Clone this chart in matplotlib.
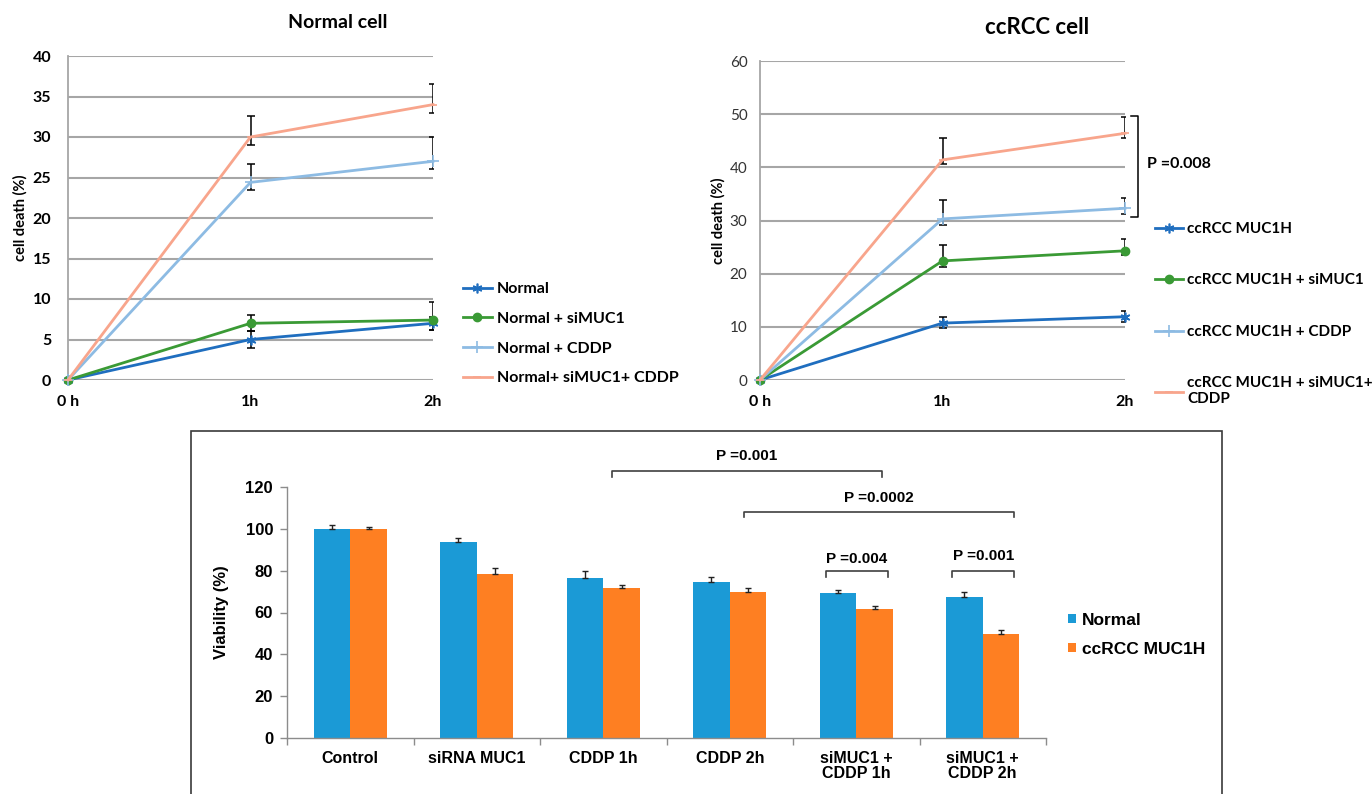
import matplotlib
matplotlib.use('Agg')
import matplotlib.pyplot as plt
from matplotlib.patches import Rectangle

# ---- data -------------------------------------------------------------
times = ['0 h', '1h', '2h']

# Normal cell: cell death (%), with lower / upper error
normal_labels = ['Normal', 'Normal + siMUC1', 'Normal + CDDP', 'Normal+ siMUC1+ CDDP']
normal_vals = [[0, 5.0, 7.0], [0, 7.0, 7.4], [0, 24.4, 27.0], [0, 30.0, 34.0]]
normal_lo = [[0, 1.0, 0.8], [0, 1.0, 1.2], [0, 0.9, 1.0], [0, 1.0, 1.0]]
normal_hi = [[0, 1.0, 0.8], [0, 1.0, 2.2], [0, 2.3, 3.0], [0, 2.6, 2.6]]

# ccRCC cell
rcc_labels = ['ccRCC MUC1H', 'ccRCC MUC1H + siMUC1', 'ccRCC MUC1H + CDDP',
              'ccRCC MUC1H + siMUC1+\nCDDP']
rcc_vals = [[0, 10.7, 11.9], [0, 22.4, 24.3], [0, 30.3, 32.3], [0, 41.4, 46.4]]
rcc_lo = [[0, 1.0, 0.9], [0, 1.1, 0.8], [0, 1.2, 1.0], [0, 0.8, 0.8]]
rcc_hi = [[0, 1.1, 1.1], [0, 3.0, 2.2], [0, 3.6, 2.0], [0, 4.1, 3.0]]

# viability bar chart
groups = ['Control', 'siRNA MUC1', 'CDDP 1h', 'CDDP 2h', 'siMUC1 +\nCDDP 1h', 'siMUC1 +\nCDDP 2h']
via_normal = [99.6, 93.7, 76.5, 74.7, 69.5, 67.6]
via_normal_err = [1.9, 2.0, 3.5, 2.1, 1.4, 2.4]
via_rcc = [99.6, 78.5, 71.7, 69.6, 61.7, 49.8]
via_rcc_err = [1.3, 2.6, 1.4, 2.0, 1.6, 1.9]

# significance brackets: (x0, x1, y, label, label y)
brackets = [(2.07, 4.20, 127.5, 'P =0.001', 134.6),
            (3.11, 5.25, 108.1, 'P =0.0002', 114.7),
            (3.76, 4.25, 79.8, 'P =0.004', 85.5),
            (4.76, 5.25, 79.8, 'P =0.001', 87.0)]

# ---- styles -----------------------------------------------------------
line_colors = ['#1F6EBF', '#3A9A35', '#8DBBE3', '#F8A58C']
line_markers = [(6, 2, 0), 'o', '+', '_']
line_msize = [7, 6, 8, 6]
CAL = ['Lato', 'DejaVu Sans']
ARI = ['Liberation Sans', 'DejaVu Sans']
GRID = '#A6A6A6'

W, H = 1372, 794
fig = plt.figure(figsize=(W / 100, H / 100), dpi=100)


def fx(px):
    return px / W


def fy(py):
    return 1 - py / H


def line_panel(ax, vals, lo, hi, labels, ymax, ystep, bold_ticks):
    x = range(len(times))
    for i in range(len(vals)):
        ax.errorbar(list(x)[1:], vals[i][1:], yerr=[lo[i][1:], hi[i][1:]], fmt='none',
                    ecolor='black', elinewidth=1.1, capsize=2.6, capthick=1.1, zorder=2)
    for i in range(len(vals)):
        ax.plot(x, vals[i], color=line_colors[i], lw=2, marker=line_markers[i],
                ms=line_msize[i], mew=1.2 if i != 1 else 1, label=labels[i],
                clip_on=False, zorder=3)
    ax.set_xlim(0, 2)
    ax.set_ylim(0, ymax)
    ax.set_yticks(range(0, ymax + 1, ystep))
    ax.yaxis.grid(True, color=GRID, lw=1.5)
    ax.set_axisbelow(True)
    for s in ['top', 'right', 'bottom']:
        ax.spines[s].set_visible(False)
    ax.spines['left'].set_color(GRID)
    ax.spines['left'].set_linewidth(1.3)
    ax.set_xticks(list(x))
    ax.set_xticklabels(times, fontfamily=CAL, fontweight='bold', fontsize=11.5)
    ax.tick_params(axis='both', length=0)
    ax.tick_params(axis='x', pad=11)
    for t in ax.get_yticklabels():
        t.set_fontfamily(CAL)
        t.set_fontsize(11.5 if bold_ticks else 11)
        t.set_fontweight('bold' if bold_ticks else 'normal')
        t.set_color('black' if bold_ticks else '#333333')
    ax.set_ylabel('cell death (%)', fontfamily=CAL, fontweight='bold', fontsize=10.5)


# ---- Normal cell -------------------------------------------------------
ax1 = fig.add_axes([fx(68), fy(380), fx(365), 324 / H])
line_panel(ax1, normal_vals, normal_lo, normal_hi, normal_labels, 40, 5, True)
ax1.tick_params(axis='y', pad=12)
ax1.yaxis.set_label_coords(-0.11, 0.5)
fig.text(fx(338), fy(23), 'Normal cell', ha='center', va='center',
         fontfamily=CAL, fontweight='bold', fontsize=14)
ax1.legend(loc='upper left', bbox_to_anchor=(fx(463), fy(282)), bbox_transform=fig.transFigure,
           frameon=False, prop={'family': CAL, 'weight': 'bold', 'size': 11.5},
           handlelength=1.8, handletextpad=0.3, labelspacing=0.97, borderpad=0,
           borderaxespad=0)

# ---- ccRCC cell --------------------------------------------------------
ax2 = fig.add_axes([fx(760), fy(380), fx(365), 319 / H])
line_panel(ax2, rcc_vals, rcc_lo, rcc_hi, rcc_labels, 60, 10, False)
ax2.tick_params(axis='y', pad=9)
ax2.yaxis.set_label_coords(-0.095, 0.5)
fig.text(fx(1037), fy(27), 'ccRCC cell', ha='center', va='center',
         fontfamily=CAL, fontweight='bold', fontsize=16)
ax2.legend(loc='upper left', bbox_to_anchor=(fx(1155), fy(222)), bbox_transform=fig.transFigure,
           frameon=False, prop={'family': CAL, 'weight': 'bold', 'size': 11},
           handlelength=1.8, handletextpad=0.3, labelspacing=2.45, borderpad=0,
           borderaxespad=0)
# P bracket between the two top curves at 2h
ax2.plot([2.033, 2.071, 2.071, 2.033], [49.65, 49.65, 30.66, 30.66], color='black',
         lw=1.1, clip_on=False)
ax2.text(2.12, 40.6, 'P =0.008', fontfamily=CAL, fontweight='bold', fontsize=11.5,
         va='center', ha='left', transform=ax2.transData, clip_on=False)

# ---- viability bar chart ----------------------------------------------
fig.add_artist(Rectangle((fx(191), -0.05), fx(1222) - fx(191), fy(431) + 0.05,
                         transform=fig.transFigure, fill=False, edgecolor='#3A3A3A', lw=1.2))
ax3 = fig.add_axes([fx(287), fy(738.3), fx(759), 251.6 / H])
xs = range(len(groups))
bw = 0.29
ax3.bar([i - bw / 2 for i in xs], via_normal, bw, color='#1B9AD6', label='Normal', zorder=2)
ax3.bar([i + bw / 2 for i in xs], via_rcc, bw, color='#FE7F22', label='ccRCC MUC1H', zorder=2)
ax3.errorbar([i - bw / 2 for i in xs], via_normal, yerr=[[0] * 6, via_normal_err], fmt='none',
             ecolor='#222222', elinewidth=1, capsize=2.4, capthick=1, zorder=3)
ax3.errorbar([i + bw / 2 for i in xs], via_rcc, yerr=[[0] * 6, via_rcc_err], fmt='none',
             ecolor='#222222', elinewidth=1, capsize=2.4, capthick=1, zorder=3)
ax3.set_xlim(-0.5, 5.5)
ax3.set_ylim(0, 120)
ax3.set_yticks(range(0, 121, 20))
ax3.set_xticks(list(xs))
ax3.set_xticklabels(groups, fontfamily=ARI, fontweight='bold', fontsize=11.5, linespacing=1.05)
ax3.set_xticks([i - 0.5 for i in range(len(groups) + 1)], minor=True)
ax3.tick_params(axis='x', which='major', length=0, pad=9)
ax3.tick_params(axis='x', which='minor', length=5, color='#8C8C8C', width=1)
ax3.tick_params(axis='y', length=5, color='#8C8C8C', width=1, pad=5)
for t in ax3.get_yticklabels():
    t.set_fontfamily(ARI)
    t.set_fontweight('bold')
    t.set_fontsize(12)
for s in ['top', 'right']:
    ax3.spines[s].set_visible(False)
for s in ['left', 'bottom']:
    ax3.spines[s].set_color('#8C8C8C')
    ax3.spines[s].set_linewidth(1)
ax3.set_ylabel('Viability (%)', fontfamily=ARI, fontweight='bold', fontsize=12)
ax3.yaxis.set_label_coords(-0.076, 0.5)

for x0, x1, y, lab, ty in brackets:
    ax3.plot([x0, x0, x1, x1], [y - 2.7, y, y, y - 2.7], color='#404040', lw=1.2, clip_on=False)
    ax3.text((x0 + x1) / 2, ty, lab, ha='center', va='center', fontfamily=ARI,
             fontweight='bold', fontsize=11, clip_on=False)

ax3.legend(loc='upper left', bbox_to_anchor=(fx(1068), fy(613)), bbox_transform=fig.transFigure,
           frameon=False, prop={'family': ARI, 'weight': 'bold', 'size': 12.5},
           handlelength=0.45, handleheight=0.45, handletextpad=0.35, labelspacing=0.8,
           borderpad=0, borderaxespad=0)

fig.savefig('out.png', dpi=100)
